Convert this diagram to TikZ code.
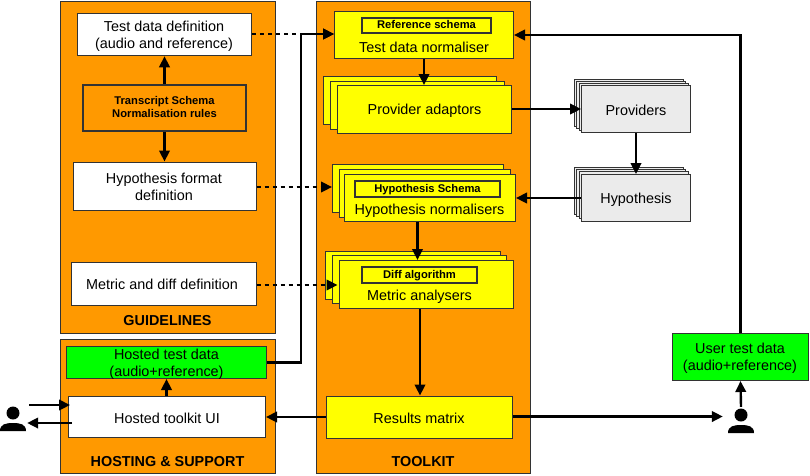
\documentclass[tikz,border=0pt]{standalone}
\usepackage{fontspec}
\setmainfont{Liberation Sans}
\usepackage{xcolor}
\usetikzlibrary{arrows.meta,calc}
\definecolor{panelorange}{HTML}{FF9900}
\definecolor{boxyellow}{HTML}{FFFF00}
\definecolor{boxgreen}{HTML}{00FF00}
\definecolor{boxgrey}{HTML}{EBEBEB}
\definecolor{edgegrey}{HTML}{333333}
\tikzset{
  panel/.style={draw=edgegrey, fill=panelorange, line width=1pt, minimum width=#1, inner sep=0pt},
  box/.style 2 args={draw=edgegrey, line width=1pt, fill=#1, minimum width=#2, inner sep=0pt, align=center,
    font=\fontsize{14.4}{17.6}\selectfont, execute at begin node={\rule{0pt}{13.5pt}}},
  schemabox/.style={draw=edgegrey, line width=2pt, inner sep=0pt, font=\fontsize{11.2}{13.5}\selectfont\bfseries, align=center,
    execute at begin node={\rule[-2.5pt]{0pt}{11pt}}},
  boxlabel/.style={inner sep=0pt, align=center, font=\fontsize{14.4}{17.2}\selectfont},
  paneltitle/.style={inner sep=0pt, font=\fontsize{14.4}{17}\selectfont\bfseries},
  flow/.style={line width=2.4pt, -{Triangle[length=11pt,width=10.5pt]}},
  dashflow/.style={flow, dash pattern=on 4pt off 4pt},
  personspot/.style={inner sep=0pt, minimum width=26pt, minimum height=26pt},
  personicon/.pic={
    \fill (0,-5) circle (6.5);
    \fill (-13,13) .. controls (-13,6) and (-7,5) .. (0,5) .. controls (7,5) and (13,6) .. (13,13) -- cycle;
  }
}
\begin{document}
\begin{tikzpicture}[x=1pt,y=-1pt]
  \useasboundingbox (0,0) rectangle (810,475);

  % Orange panels
  \node[panel=215pt, minimum height=332pt] (guidelines) at (167.5,167) {};
  \node[panel=215pt, minimum height=134pt] (hosting) at (168,406) {};
  \node[panel=214pt, minimum height=472pt] (toolkit) at (423.5,237) {};
  \node[paneltitle] (guidelinestitle) at (167.5,321) {GUIDELINES};
  \node[paneltitle] (hostingtitle) at (167.5,462) {HOSTING \& SUPPORT};
  \node[paneltitle] (toolkittitle) at (423,462) {TOOLKIT};

  % Guidelines
  \node[box={white}{174pt}, minimum height=42.5pt] (testdef) at (164.5,34.5) {};
  \node[boxlabel] (testdeflabel) at (164,36.2) {Test data definition\\(audio and reference)};
  \node[schemabox, fill=panelorange, minimum width=163pt, minimum height=46pt] (transcript) at (164.5,108) {Transcript Schema\\Normalisation rules};
  \node[box={white}{183pt}, minimum height=48pt] (hypdef) at (164.5,186) {};
  \node[boxlabel] (hypdeflabel) at (164,186.5) {Hypothesis format\\definition};
  \node[box={white}{185pt}, minimum height=43pt] (metricdef) at (163.5,283.5) {};
  \node[boxlabel] (metricdeflabel) at (162,284.5) {Metric and diff definition};

  % Hosting and support
  \node[box={boxgreen}{200pt}, minimum height=32pt] (hosteddata) at (166.5,362.5) {};
  \node[boxlabel] (hosteddatalabel) at (166.5,364) {Hosted test data\\(audio+reference)};
  \node[box={white}{197pt}, minimum height=41pt] (hostedui) at (167,417) {Hosted toolkit UI};

  % Toolkit
  \node[box={boxyellow}{179pt}, minimum height=47pt] (normaliser) at (424,35) {};
  \node[schemabox, minimum width=129pt, minimum height=15.5pt] (refschema) at (426.5,25.5) {Reference schema};
  \node[boxlabel] (normaliserlabel) at (424,47.5) {Test data normaliser};

  \node[box={boxyellow}{173pt}, minimum height=48pt] (adaptorsback) at (410,100.5) {};
  \node[box={boxyellow}{174pt}, minimum height=48pt] (adaptorsmid) at (417.5,105) {};
  \node[box={boxyellow}{174pt}, minimum height=48pt] (adaptors) at (424.5,109.5) {Provider adaptors};

  \node[box={boxyellow}{171pt}, minimum height=48pt] (hypnormback) at (418,188.5) {};
  \node[box={boxyellow}{171pt}, minimum height=48pt] (hypnormmid) at (425,193) {};
  \node[box={boxyellow}{171pt}, minimum height=47pt] (hypnorm) at (430,198) {};
  \node[schemabox, minimum width=145pt, minimum height=16pt] (hypschema) at (427.5,189) {Hypothesis Schema};
  \node[boxlabel] (hypnormlabel) at (429.5,210.5) {Hypothesis normalisers};

  \node[box={boxyellow}{175pt}, minimum height=48pt] (analysersback) at (413,275.5) {};
  \node[box={boxyellow}{174pt}, minimum height=48pt] (analysersmid) at (419.5,279.5) {};
  \node[box={boxyellow}{174pt}, minimum height=48pt] (analysers) at (426.5,284.5) {};
  \node[schemabox, minimum width=115pt, minimum height=16pt] (diffalgo) at (419.5,275) {Diff algorithm};
  \node[boxlabel] (analyserslabel) at (419.5,296.5) {Metric analysers};

  \node[box={boxyellow}{186pt}, minimum height=42pt] (results) at (419,417) {Results matrix};

  % External stacks
  \foreach \nudge/\tag in {0/a,2.3/b,4.6/c} {
    \node[box={boxgrey}{109pt}, minimum height=47.5pt] (providers\tag) at (629+\nudge,103+\nudge*0.87) {};
    \node[box={boxgrey}{109pt}, minimum height=47.5pt] (hypothesis\tag) at (629+\nudge,191+\nudge*0.87) {};
  }
  \node[box={boxgrey}{109pt}, minimum height=47.5pt] (providers) at (636,109) {Providers};
  \node[box={boxgrey}{109pt}, minimum height=47pt] (hypothesis) at (636,198) {Hypothesis};

  % User data and people
  \node[box={boxgreen}{136pt}, minimum height=47pt] (userdata) at (740.5,357) {};
  \node[boxlabel] (userdatalabel) at (740,358) {User test data\\(audio+reference)};
  \node[personspot] (hostuser) at (13,418) {};
  \node[personspot] (testuser) at (741,420) {};
  \pic at (hostuser.center) {personicon};
  \pic at (testuser.center) {personicon};

  % Dashed links from the guidelines
  \draw[dashflow] ([yshift=0.5pt]testdef.east) -- ([yshift=1pt]normaliser.west);
  \draw[dashflow] ([yshift=-1pt]hypdef.east) -- ([yshift=1.5pt]hypnormback.west);
  \draw[dashflow] ([yshift=-1.5pt]metricdef.east) -- ([xshift=-1.5pt,yshift=-0.5pt]analysers.west);

  % Solid links
  \draw[flow] (transcript) -- (testdef);
  \draw[flow] (transcript) -- (hypdef);
  \draw[flow] ([xshift=-0.5pt]hostedui.north) -- (hosteddata.south);
  \draw[flow] (hosteddata.east) -- (301,362.5) -- (301,34) -- ([yshift=1pt]normaliser.west);
  \draw[flow] (normaliser.south) -- (adaptors.north -| normaliser.south);
  \draw[flow] ([yshift=0.5pt]adaptors.east) -- (providers.west);
  \draw[flow] (providers) -- (hypothesis);
  \draw[flow] (hypothesis.west) -- (hypnorm.east);
  \draw[flow] ([xshift=-12.5pt]hypnorm.south) -- ([xshift=-9pt]analysers.north);
  \draw[flow] ([xshift=-6.5pt]analysers.south) -- ([xshift=1pt]results.north);
  \draw[flow] (results.west) -- (hostedui.east);
  \draw[flow] ([yshift=0.5pt]results.east) -- ([xshift=-5pt,yshift=3.5pt]testuser.west);
  \draw[flow] (testuser.north) -- (userdata.south);
  \draw[flow] (userdata.north) -- (userdata.north |- normaliser.east) -- (normaliser.east);
  \draw[flow] ([xshift=3pt,yshift=13pt]hostuser.east) -- ([xshift=2pt,yshift=12pt]hostedui.west);
  \draw[flow] ([xshift=4pt,yshift=-6pt]hostedui.west) -- ([xshift=1pt,yshift=-5pt]hostuser.east);
\end{tikzpicture}
\end{document}
